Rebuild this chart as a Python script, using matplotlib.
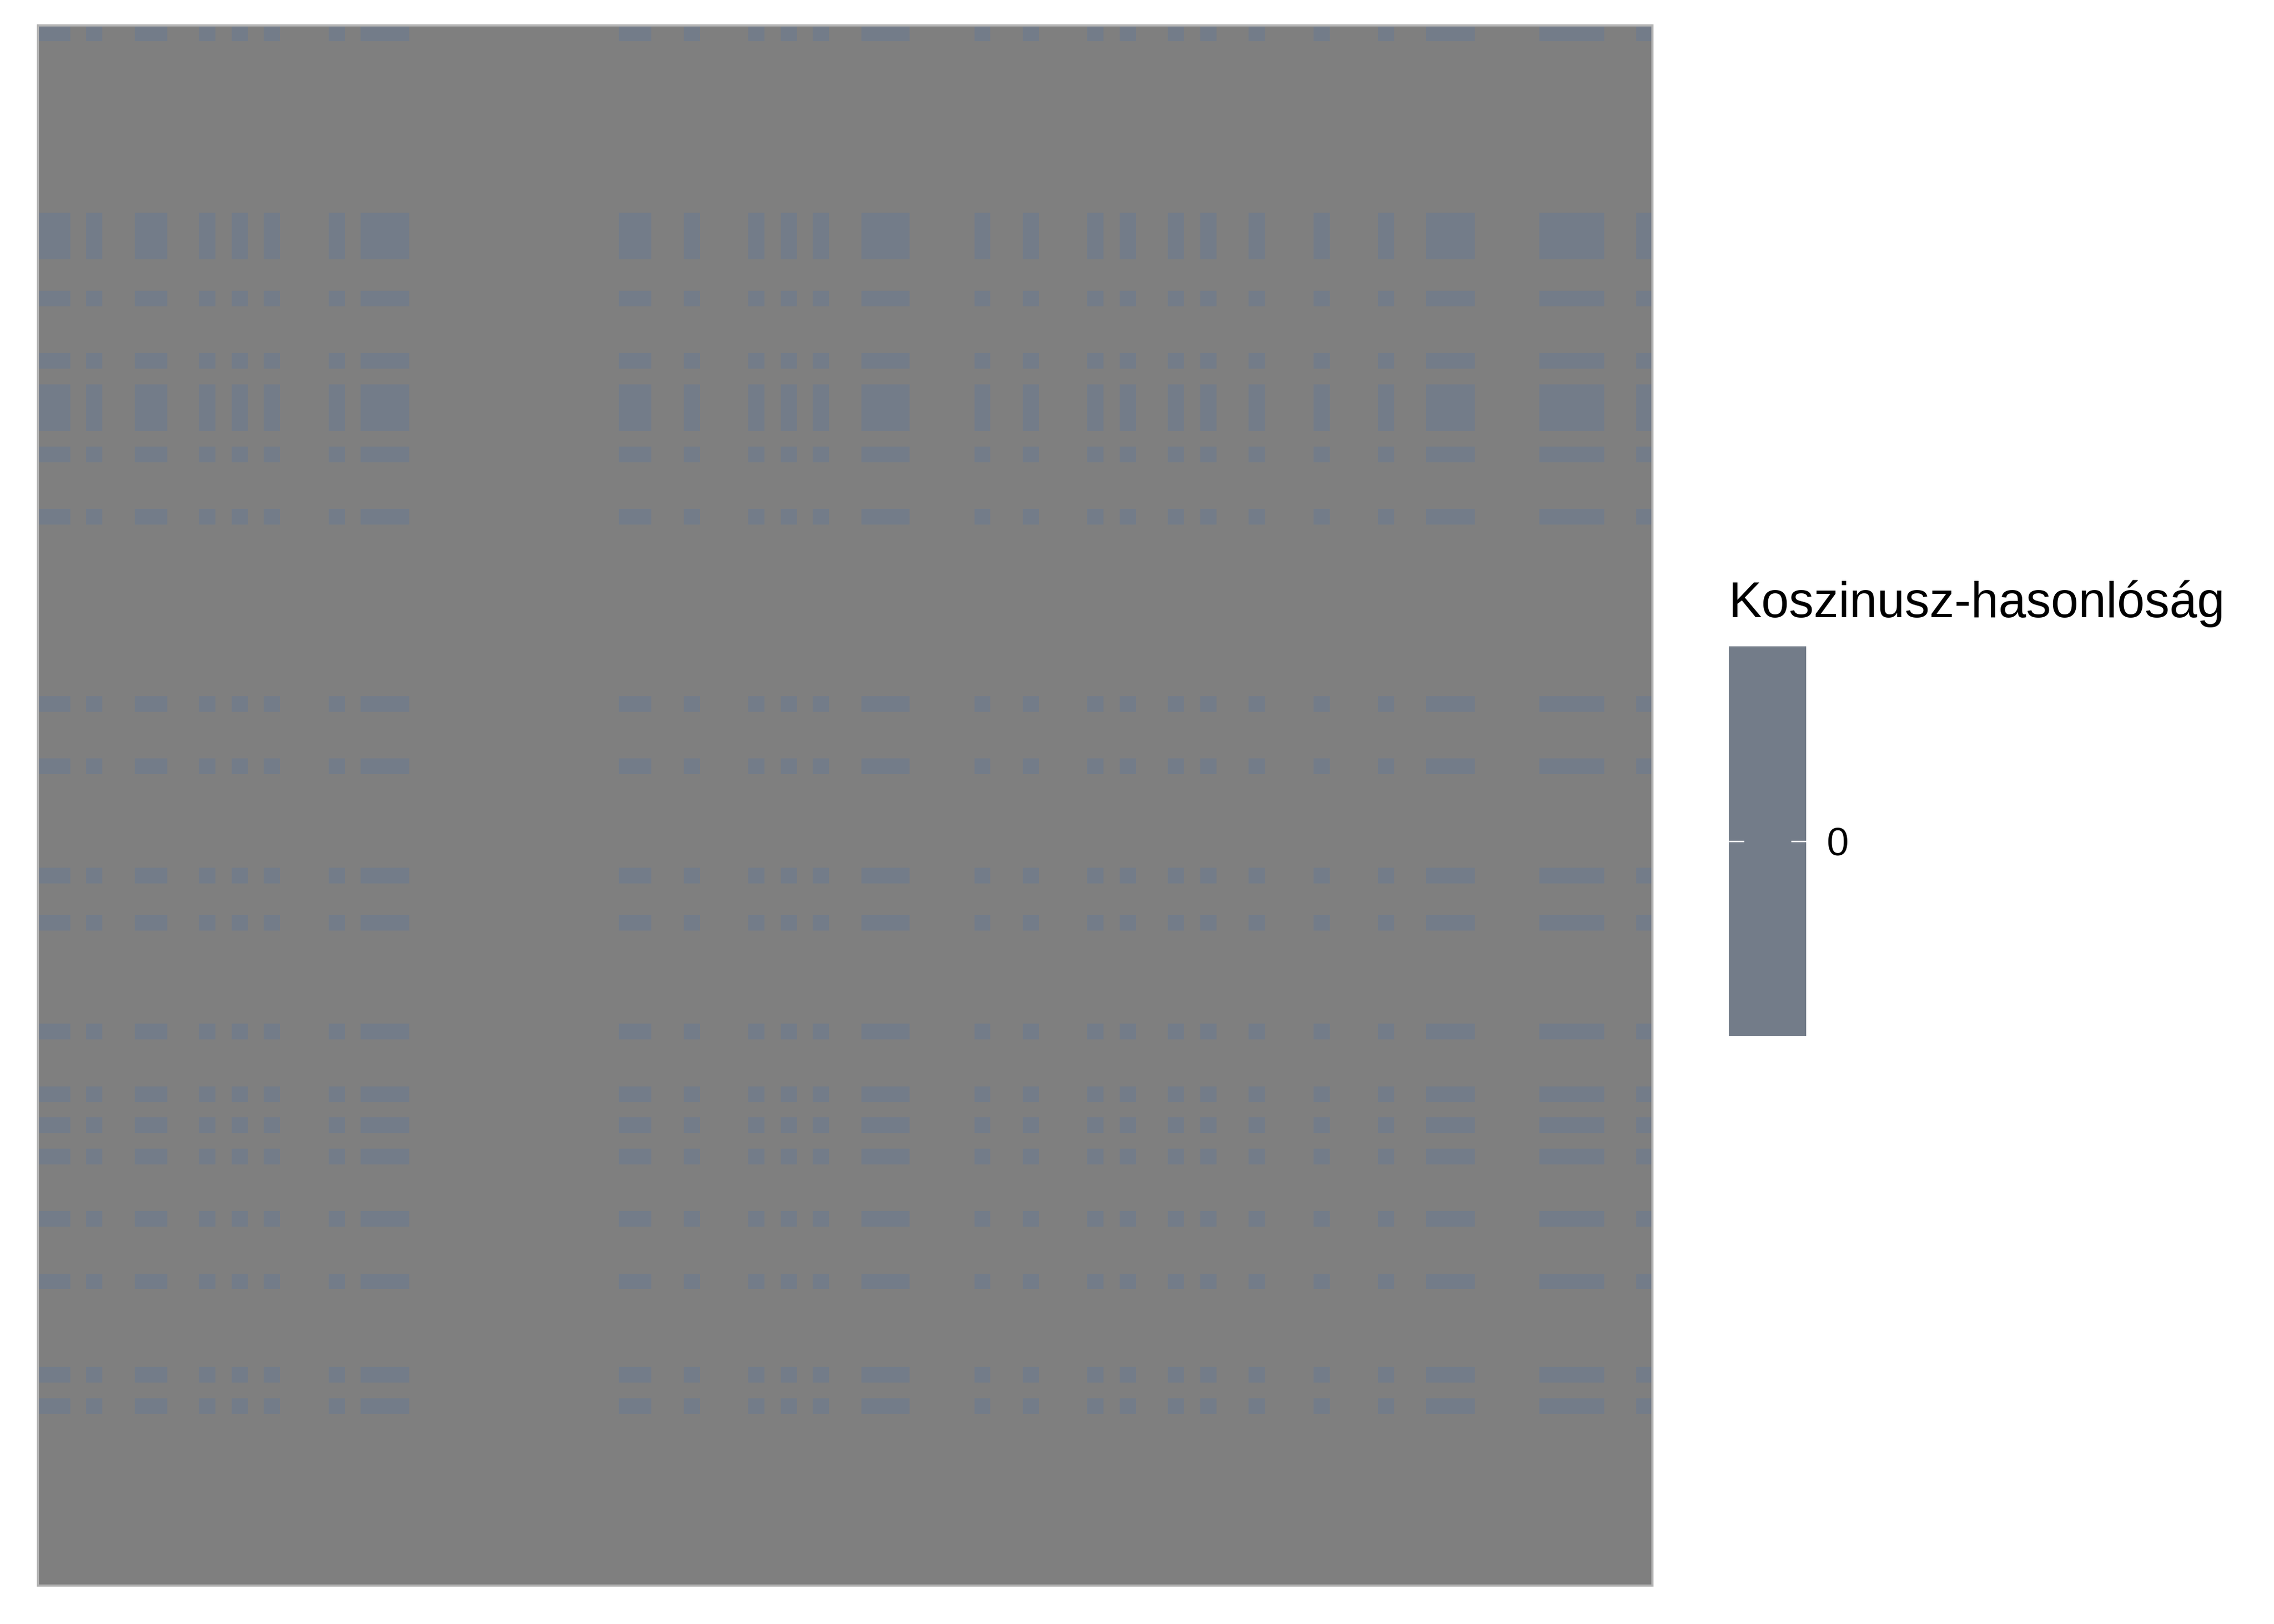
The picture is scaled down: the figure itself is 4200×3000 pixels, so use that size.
import numpy as np
from matplotlib import pyplot as plt
from matplotlib import colors as mcolors
from matplotlib import cm

plt.rcParams['font.family'] = ['Liberation Sans', 'DejaVu Sans']

# heatmap is 100 x 100 documents, most pairs are NA
n_rows = 100
n_cols = 100
# rows (top to bottom) and columns (left to right) that have a value
active_rows = [0, 12, 13, 14, 17, 21, 23, 24, 25, 27, 31, 43, 47, 54, 57, 64,
               68, 70, 72, 76, 80, 86, 88]
active_cols = [0, 1, 3, 6, 7, 10, 12, 14, 18, 20, 21, 22, 36, 37, 40, 44, 46,
               48, 51, 52, 53, 58, 61, 65, 67, 70, 72, 75, 79, 83, 86, 87, 88,
               93, 94, 95, 96, 99]
similarity_value = 0.0   # every defined pair has cosine similarity 0
legend_title = "Koszinusz-hasonlóság"
legend_ticks = [0]

tile_color = "#737C89"
na_color = "#7F7F7F"

sim = np.full((n_rows, n_cols), np.nan)
for r in active_rows:
    for c in active_cols:
        sim[r, c] = similarity_value

fig = plt.figure(figsize=(14, 10), dpi=300)
ax = fig.add_axes([70 / 4200, 1 - 2929 / 3000, 2982 / 4200, 2882 / 3000])

cmap = mcolors.ListedColormap([tile_color])
cmap.set_bad(na_color)
norm = mcolors.Normalize(vmin=-1, vmax=1)
ax.imshow(np.ma.masked_invalid(sim), cmap=cmap, norm=norm, aspect='auto',
          interpolation='nearest', extent=(0, n_cols, n_rows, 0))
ax.set_xticks([])
ax.set_yticks([])
for s in ax.spines.values():
    s.set_color("#B3B3B3")
    s.set_linewidth(0.96)

# legend / colourbar
cax = fig.add_axes([3193 / 4200, 1 - 1914 / 3000, 143 / 4200, 720 / 3000])
C = fig.colorbar(cm.ScalarMappable(norm=norm, cmap=cmap), cax=cax)
C.outline.set_visible(False)
C.set_ticks(legend_ticks)
C.set_ticklabels([str(t) for t in legend_ticks])
cax.tick_params(axis='y', direction='in', color='white', length=6.8, width=0.6,
                left=True, right=True, labelleft=False, labelright=True,
                labelsize=17.6, pad=9)
fig.text(3193 / 4200, 1 - 1140 / 3000, legend_title, fontsize=22,
         ha='left', va='baseline')

plt.savefig("out.png", dpi=300)
